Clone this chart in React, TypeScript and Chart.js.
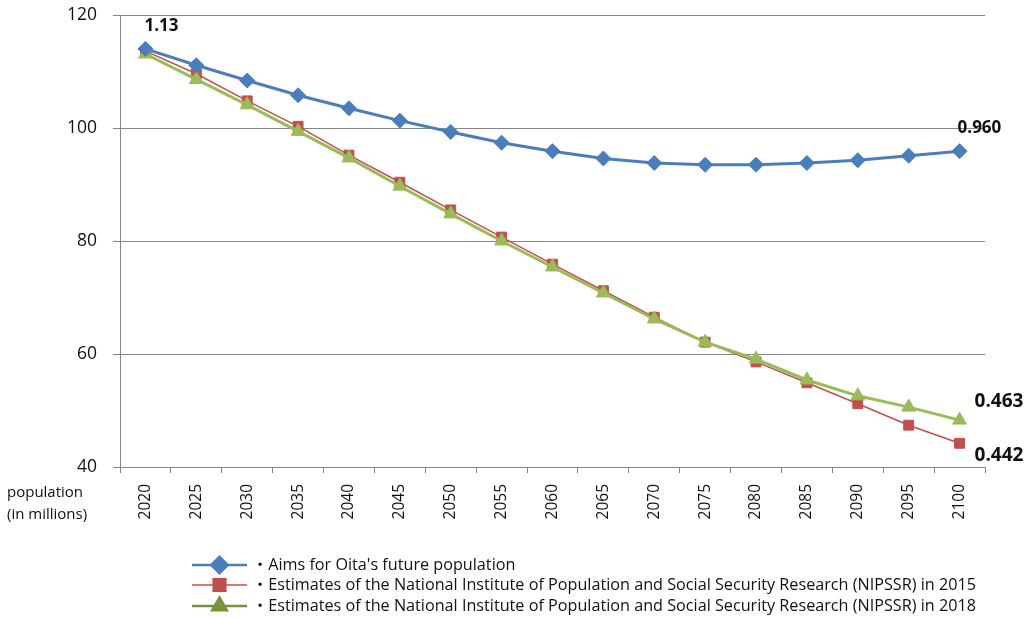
import React, { useEffect, useRef } from "react";
import { Chart, registerables } from "chart.js";

Chart.register(...registerables);

const years = ["2020", "2025", "2030", "2035", "2040", "2045", "2050", "2055", "2060", "2065", "2070", "2075", "2080", "2085", "2090", "2095", "2100"];
const aimsValues = [114.0, 111.1, 108.4, 105.8, 103.5, 101.3, 99.3, 97.4, 95.9, 94.6, 93.8, 93.5, 93.5, 93.8, 94.3, 95.1, 95.9];
const nipssr2015Values = [113.6, 109.6, 104.8, 100.3, 95.2, 90.4, 85.5, 80.7, 75.9, 71.2, 66.5, 62.1, 58.6, 54.9, 51.2, 47.4, 44.2];
const nipssr2018Values = [113.1, 108.6, 104.1, 99.4, 94.7, 89.7, 84.8, 80.0, 75.4, 70.8, 66.2, 62.1, 59.1, 55.4, 52.6, 50.6, 48.3];
const seriesLabels = [
  "・Aims for Oita's future population",
  "・Estimates of the National Institute of Population and Social Security Research (NIPSSR) in 2015",
  "・Estimates of the National Institute of Population and Social Security Research (NIPSSR) in 2018",
];
const yTickValues = [40, 60, 80, 100, 120];
const axisTitleLines = ["population", "(in millions)"];
// value callouts: series index, point index, text
const calloutSeries = [0, 0, 2, 1];
const calloutIndex = [0, 16, 16, 16];
const calloutText = ["1.13", "0.960", "0.463", "0.442"];

const BLUE = "#4A7EBB";
const RED = "#C0504D";
const GREEN = "#9BBB59";
const GREEN_DARK = "#77933C";
const FONT = "'Open Sans', 'Noto Sans', 'Noto Sans CJK JP', sans-serif";

function drawMarker(ctx: CanvasRenderingContext2D, style: string, x: number, y: number, r: number, color: string) {
  ctx.save();
  ctx.fillStyle = color;
  ctx.beginPath();
  if (style === "rectRot") {
    ctx.moveTo(x, y - r);
    ctx.lineTo(x + r, y);
    ctx.lineTo(x, y + r);
    ctx.lineTo(x - r, y);
  } else if (style === "rect") {
    const s = r * Math.SQRT1_2;
    ctx.rect(x - s, y - s, 2 * s, 2 * s);
  } else {
    for (let i = 0; i < 3; i++) {
      const a = -Math.PI / 2 + (i * 2 * Math.PI) / 3;
      const px = x + Math.cos(a) * r;
      const py = y + Math.sin(a) * r;
      if (i === 0) ctx.moveTo(px, py);
      else ctx.lineTo(px, py);
    }
  }
  ctx.closePath();
  ctx.fill();
  ctx.restore();
}

const extrasPlugin = {
  id: "extras",
  afterDraw(chart: any) {
    const ctx: CanvasRenderingContext2D = chart.ctx;
    const area = chart.chartArea;
    // callouts
    ctx.save();
    ctx.fillStyle = "#111";
    ctx.textBaseline = "middle";
    ctx.textAlign = "left";
    const offsets = [
      [-1, -23, 17],
      [-2, -23, 17],
      [15, -19, 19],
      [15, 12, 19],
    ];
    calloutText.forEach((t, i) => {
      const meta = chart.getDatasetMeta(calloutSeries[i]);
      const pt = meta.data[calloutIndex[i]];
      const [dx, dy, fs] = offsets[i];
      ctx.font = `bold ${fs}px ${FONT}`;
      ctx.fillText(t, pt.x + dx, pt.y + dy);
    });
    ctx.restore();

    // axis title at bottom-left
    ctx.save();
    ctx.fillStyle = "#111";
    ctx.font = `15px ${FONT}`;
    ctx.textBaseline = "middle";
    ctx.textAlign = "left";
    axisTitleLines.forEach((line, i) => {
      ctx.fillText(line, 7, area.bottom + 26 + i * 22);
    });
    ctx.restore();

    // legend
    ctx.save();
    const lx = area.left + 72;
    const rows = [area.bottom + 98, area.bottom + 118, area.bottom + 139];
    const lineColors = [BLUE, RED, GREEN_DARK];
    const markColors = [BLUE, RED, GREEN_DARK];
    const styles = ["rectRot", "rect", "triangle"];
    const radii = [10, 10, 11];
    const widths = [2.5, 1.5, 2.5];
    chart.data.datasets.forEach((ds: any, i: number) => {
      const y = rows[i];
      ctx.strokeStyle = lineColors[i];
      ctx.lineWidth = widths[i];
      ctx.beginPath();
      ctx.moveTo(lx, y);
      ctx.lineTo(lx + 55, y);
      ctx.stroke();
      drawMarker(ctx, styles[i], lx + 27.5, y, radii[i], markColors[i]);
      ctx.fillStyle = "#111";
      ctx.font = `16.2px ${FONT}`;
      ctx.textBaseline = "middle";
      ctx.textAlign = "left";
      ctx.fillText(ds.label, lx + 60, y);
    });
    ctx.restore();
  },
};

export default function App() {
  const ref = useRef<HTMLCanvasElement | null>(null);
  useEffect(() => {
    if (!ref.current) return;
    const chart = new Chart(ref.current, {
      type: "line",
      data: {
        labels: years,
        datasets: [
          {
            label: seriesLabels[0],
            data: aimsValues,
            borderColor: BLUE,
            backgroundColor: BLUE,
            pointBackgroundColor: BLUE,
            pointBorderColor: BLUE,
            borderWidth: 3,
            pointStyle: "rectRot",
            pointRadius: 7.5,
            pointBorderWidth: 1,
            order: 0,
          },
          {
            label: seriesLabels[1],
            data: nipssr2015Values,
            borderColor: RED,
            backgroundColor: RED,
            pointBackgroundColor: RED,
            pointBorderColor: RED,
            borderWidth: 1.5,
            pointStyle: "rect",
            pointRadius: 7,
            pointBorderWidth: 1,
            order: 2,
          },
          {
            label: seriesLabels[2],
            data: nipssr2018Values,
            borderColor: GREEN,
            backgroundColor: GREEN,
            pointBackgroundColor: GREEN,
            pointBorderColor: GREEN,
            borderWidth: 3,
            pointStyle: "triangle",
            pointRadius: 8,
            pointBorderWidth: 1,
            order: 1,
          },
        ],
      },
      options: {
        responsive: false,
        animation: false,
        layout: { padding: { top: 15, right: 42, left: 0, bottom: 0 } },
        plugins: { legend: { display: false }, tooltip: { enabled: false } },
        scales: {
          x: {
            type: "category",
            offset: true,
            grid: {
              display: true,
              drawOnChartArea: false,
              drawTicks: true,
              tickLength: 6,
              color: "#868686",
              offset: true,
            },
            border: { color: "#868686", width: 1 },
            ticks: {
              minRotation: 90,
              maxRotation: 90,
              padding: 11,
              color: "#111",
              font: { family: FONT, size: 15.5 },
            },
            afterFit: (scale: any) => {
              scale.height = 151;
              scale.paddingTop = 0;
              scale.paddingBottom = 0;
              scale.paddingLeft = 0;
              scale.paddingRight = 0;
            },
          },
          y: {
            min: 40,
            max: 120,
            afterBuildTicks: (scale: any) => {
              scale.ticks = yTickValues.map((v) => ({ value: v }));
            },
            grid: { color: "#868686", tickLength: 7, drawTicks: true },
            border: { color: "#868686", width: 1 },
            ticks: {
              padding: 16,
              color: "#111",
              font: { family: FONT, size: 17.5 },
            },
            afterFit: (scale: any) => {
              scale.width = 120;
              scale.paddingTop = 0;
              scale.paddingBottom = 0;
            },
          },
        },
      },
      plugins: [extrasPlugin],
    } as any);
    return () => chart.destroy();
  }, []);
  return (
    <div style={{ position: "fixed", left: 0, top: 0, width: 1027, height: 618, background: "#fff" }}>
      <canvas ref={ref} width={1027} height={618} style={{ display: "block" }} />
    </div>
  );
}
